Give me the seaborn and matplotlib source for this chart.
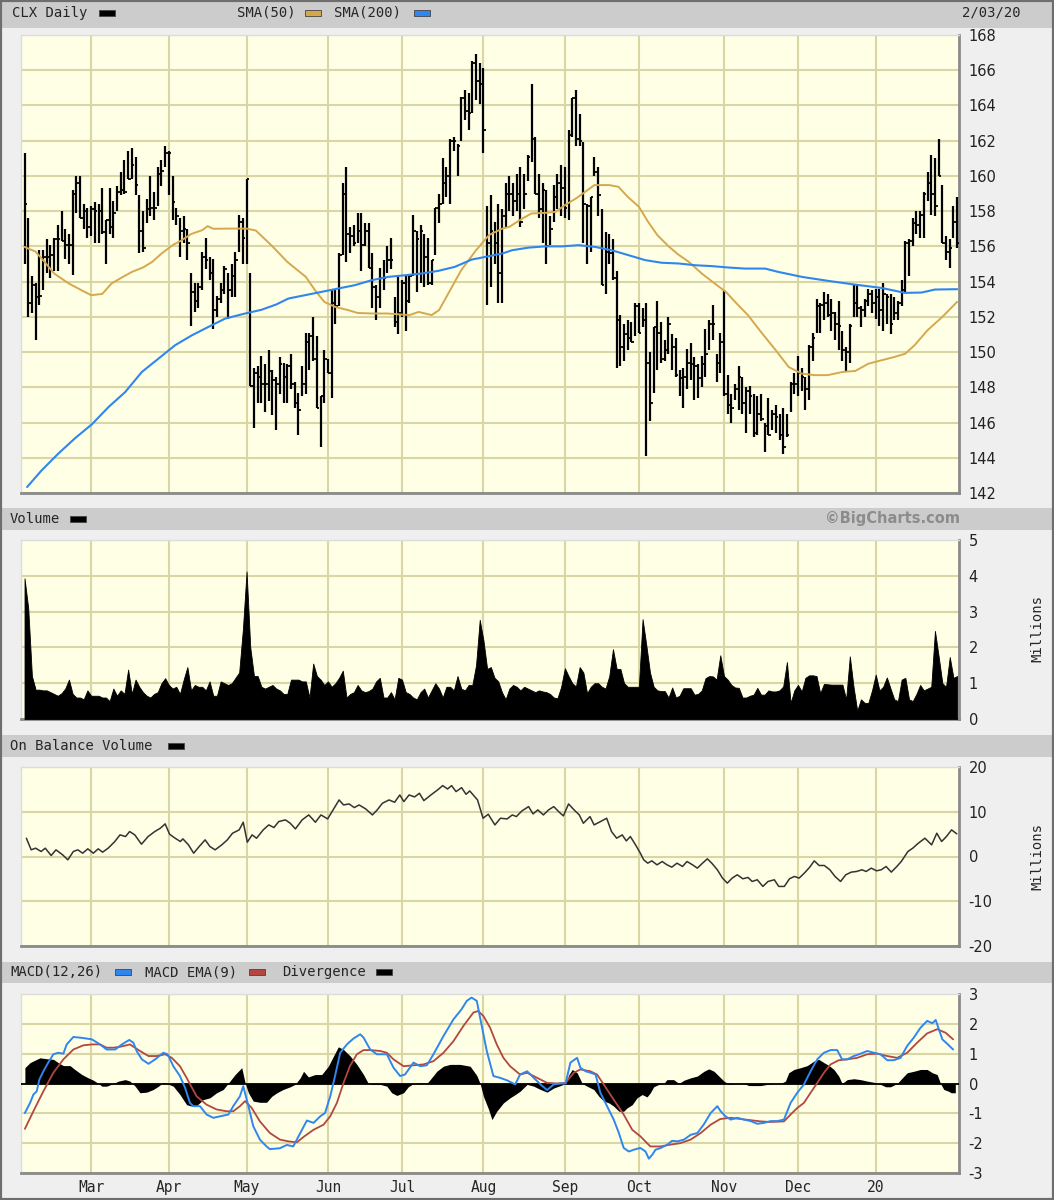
import numpy as np
import seaborn as sns
import matplotlib.pyplot as plt
from matplotlib.patches import Rectangle

# ---- price bars (daily high / low / close), Feb 2019 - Feb 3 2020 ----
highs = [161.3, 157.6, 154.3, 153.9, 155.8, 155.8, 156.4, 156.1, 156.5, 157.2,
         158.0, 157.0, 156.7, 159.2, 160.0, 160.0, 158.4, 158.2, 158.3, 158.5,
         158.4, 159.3, 157.5, 159.3, 158.6, 159.4, 160.2, 160.9, 161.4, 161.6,
         161.1, 158.9, 158.0, 158.7, 160.0, 159.1, 160.5, 160.9, 161.7, 161.4,
         160.0, 158.2, 157.6, 157.7, 157.0, 154.5, 153.9, 153.9, 155.7, 156.5,
         155.4, 155.3, 153.2, 153.9, 154.9, 154.5, 155.0, 155.7, 157.8, 157.6,
         159.8, 154.5, 149.1, 149.2, 149.8, 149.3, 150.1, 149.0, 148.6, 149.7,
         149.4, 149.3, 149.9, 148.3, 147.7, 149.2, 151.1, 151.1, 152.0, 150.9,
         147.5, 150.1, 149.6, 153.6, 153.5, 155.6, 159.6, 160.5, 157.1, 157.2,
         157.9, 157.9, 157.3, 157.3, 155.6, 153.8, 154.8, 155.2, 156.0, 156.5,
         153.1, 154.4, 154.1, 154.4, 154.3, 157.8, 156.9, 157.2, 156.7, 156.5,
         155.2, 158.2, 159.0, 161.0, 160.5, 162.1, 162.2, 161.8, 164.5, 164.9,
         164.7, 166.5, 166.9, 166.4, 166.1, 158.3, 158.9, 157.4, 158.4, 158.1,
         159.6, 160.0, 159.6, 160.1, 160.5, 160.1, 161.2, 165.2, 162.2, 160.1,
         159.6, 159.2, 157.7, 159.5, 160.1, 160.6, 160.5, 162.6, 164.4, 164.9,
         163.5, 161.9, 158.4, 158.8, 161.1, 160.5, 158.1, 156.8, 156.7, 156.4,
         154.6, 152.1, 151.6, 151.8, 151.7, 152.8, 152.8, 152.5, 152.8, 150.0,
         151.4, 152.9, 151.7, 150.7, 152.0, 151.0, 150.8, 149.0, 149.1, 150.2,
         150.5, 149.7, 149.3, 149.8, 151.3, 151.8, 152.7, 149.9, 151.1, 153.5,
         148.7, 147.6, 148.2, 149.2, 148.6, 148.0, 148.1, 147.6, 147.5, 147.6,
         146.0, 147.4, 146.7, 147.0, 146.5, 146.8, 146.5, 148.3, 148.8, 149.8,
         149.1, 148.6, 150.4, 151.1, 153.0, 152.8, 153.4, 153.3, 153.0, 152.3,
         152.9, 151.2, 150.3, 151.6, 153.8, 153.8, 152.6, 153.0, 153.6, 153.5,
         153.6, 153.6, 153.9, 153.3, 153.3, 153.1, 152.9, 154.1, 156.3, 156.4,
         157.6, 158.0, 158.0, 159.1, 160.2, 161.2, 161.0, 162.1, 159.5, 156.6,
         156.4, 158.3, 158.8]
lows = [155.0, 152.0, 152.2, 150.7, 152.7, 153.5, 154.5, 154.2, 154.6, 154.6,
        156.3, 155.3, 155.0, 154.4, 157.9, 157.6, 157.0, 156.5, 156.6, 156.2,
        156.2, 156.7, 155.0, 156.7, 156.5, 158.0, 158.9, 159.0, 159.8, 159.8,
        158.9, 155.6, 155.7, 157.3, 157.7, 157.5, 158.3, 159.4, 160.5, 158.9,
        157.5, 157.2, 155.4, 156.2, 155.2, 151.5, 152.3, 152.5, 153.5, 154.7,
        154.1, 151.3, 152.0, 152.8, 153.3, 151.9, 153.1, 153.1, 155.7, 155.0,
        155.0, 148.1, 145.7, 147.1, 147.1, 146.6, 147.2, 146.4, 145.6, 147.6,
        147.1, 147.1, 147.9, 146.8, 145.3, 147.5, 147.6, 149.0, 149.5, 146.8,
        144.6, 147.1, 148.8, 147.4, 151.6, 152.6, 155.5, 155.1, 155.6, 156.0,
        156.2, 154.6, 156.0, 154.8, 152.5, 151.8, 152.5, 153.5, 154.5, 154.7,
        151.4, 151.0, 152.0, 151.2, 152.8, 154.3, 153.4, 153.9, 153.7, 153.8,
        153.8, 155.5, 157.3, 158.4, 158.8, 158.4, 161.4, 160.0, 162.0, 163.2,
        162.6, 163.6, 164.3, 164.1, 161.3, 152.7, 153.7, 155.0, 152.8, 152.8,
        157.1, 158.0, 157.7, 158.0, 157.1, 158.1, 159.7, 160.8, 159.0, 157.6,
        156.2, 155.0, 156.1, 157.4, 158.1, 157.7, 157.6, 157.5, 162.2, 161.7,
        161.7, 156.2, 155.0, 155.7, 160.0, 157.7, 153.8, 153.3, 155.0, 154.1,
        149.1, 149.2, 149.5, 150.1, 150.6, 150.9, 151.1, 151.4, 144.1, 146.1,
        147.7, 149.0, 149.4, 149.5, 149.9, 149.0, 148.6, 147.5, 146.8, 147.9,
        148.4, 147.3, 147.4, 148.0, 148.6, 150.1, 150.7, 148.3, 148.8, 147.5,
        146.5, 146.0, 147.3, 146.7, 146.5, 145.4, 146.5, 145.2, 145.3, 146.1,
        144.3, 145.3, 145.6, 145.4, 145.0, 144.2, 145.2, 146.6, 147.6, 147.5,
        147.8, 146.7, 147.3, 149.5, 151.1, 151.1, 151.8, 152.0, 151.2, 150.7,
        150.1, 149.5, 148.9, 149.4, 152.0, 152.0, 151.4, 152.0, 152.6, 152.2,
        151.9, 151.5, 151.2, 151.6, 151.0, 151.8, 151.8, 152.6, 153.4, 154.3,
        156.0, 156.7, 156.5, 156.5, 158.6, 157.8, 157.7, 160.0, 156.2, 155.2,
        154.8, 156.5, 155.9]
closes = [158.4, 152.8, 153.8, 153.1, 153.2, 155.4, 155.4, 155.5, 156.4, 156.4,
          156.3, 156.1, 156.1, 159.0, 159.6, 157.6, 158.0, 157.1, 158.1, 158.0,
          158.0, 156.8, 157.5, 157.1, 157.9, 159.1, 159.2, 159.1, 159.8, 160.6,
          159.5, 156.9, 155.9, 158.1, 158.2, 158.2, 160.1, 160.3, 161.3, 161.3,
          158.5, 157.7, 156.9, 157.0, 156.2, 153.4, 152.9, 153.7, 155.4, 155.2,
          154.5, 152.4, 153.0, 153.5, 154.7, 153.5, 154.3, 155.2, 157.4, 156.5,
          159.8, 148.1, 148.8, 148.6, 148.2, 148.2, 148.9, 148.4, 148.2, 149.3,
          148.6, 149.2, 148.2, 147.1, 146.7, 148.2, 150.6, 150.9, 149.6, 146.8,
          147.5, 149.6, 148.8, 152.8, 152.6, 155.5, 159.0, 156.7, 156.6, 156.2,
          156.9, 156.1, 156.9, 154.8, 153.7, 153.1, 154.2, 154.2, 155.2, 155.2,
          151.7, 152.2, 153.9, 152.9, 154.3, 156.9, 156.4, 156.9, 155.4, 153.9,
          155.2, 158.2, 158.4, 159.6, 160.0, 162.0, 162.0, 161.7, 164.4, 163.7,
          163.6, 166.4, 165.4, 165.2, 162.6, 156.2, 156.9, 156.2, 154.5, 157.7,
          159.0, 159.0, 158.6, 159.0, 157.4, 159.0, 161.1, 162.1, 159.0, 158.1,
          159.2, 156.0, 157.0, 158.8, 159.6, 159.3, 158.2, 162.3, 164.4, 162.1,
          162.0, 158.4, 158.3, 158.8, 160.2, 158.9, 153.8, 155.7, 155.6, 154.2,
          151.8, 150.3, 151.0, 150.8, 150.6, 152.6, 151.1, 151.8, 149.4, 147.1,
          151.4, 151.1, 149.6, 150.1, 151.6, 150.3, 148.7, 148.5, 148.6, 149.4,
          149.3, 149.2, 148.5, 149.3, 149.9, 151.6, 151.6, 149.4, 150.6, 147.6,
          147.0, 146.8, 147.9, 148.6, 147.1, 147.8, 147.5, 145.4, 146.5, 146.2,
          145.8, 145.3, 146.5, 146.3, 145.3, 144.6, 145.3, 148.2, 148.2, 148.8,
          148.6, 147.9, 150.3, 150.8, 152.6, 152.7, 152.8, 152.1, 152.2, 151.6,
          151.5, 150.1, 150.0, 151.5, 152.8, 152.5, 152.4, 152.9, 153.3, 152.8,
          153.1, 152.4, 153.3, 153.1, 151.6, 152.2, 152.8, 153.5, 156.2, 156.3,
          157.3, 157.2, 157.8, 159.0, 159.6, 159.0, 158.3, 160.0, 156.2, 155.7,
          155.9, 157.4, 156.2]

# ---- moving averages (read at sample days) ----
sma50_x = [0, 3, 5.5, 8, 12, 15.5, 18, 21, 23.5, 26, 29, 32, 34.5, 37, 40, 42.5, 45, 48, 49.5, 51,
           55, 60, 62.5, 65, 67, 71, 76, 78.5, 81, 84, 87.5, 90, 94, 98, 102, 104, 106.5, 110, 112, 114.5,
           118, 122, 125.5, 129, 131, 134.5, 137, 140.5, 143.5, 146, 149, 151.5, 154, 158, 160.5, 163, 166,
           168.5, 171, 174, 176.5, 179.5, 183, 186.5, 189.5, 192, 195.5, 199, 203, 206.5, 210, 213.5, 217,
           221, 224.5, 228, 231.5, 235, 238, 240.5, 244, 248, 252]
sma50 = [155.97, 155.7, 155.1, 154.46, 153.89, 153.5, 153.23, 153.3, 153.89, 154.2, 154.55, 154.8, 155.12,
         155.59, 156.07, 156.35, 156.7, 156.92, 157.15, 157.0, 157.01, 157.01, 156.9, 156.4, 156.0, 155.12,
         154.27, 153.51, 152.85, 152.56, 152.38, 152.22, 152.19, 152.19, 152.13, 152.1, 152.28, 152.1,
         152.38, 153.32, 154.65, 155.78, 156.64, 157.0, 157.11, 157.58, 157.87, 157.9, 157.96, 158.34,
         158.72, 159.1, 159.48, 159.48, 159.38, 158.81, 158.25, 157.39, 156.64, 156.01, 155.56, 155.12,
         154.46, 153.89, 153.42, 152.85, 152.09, 151.14, 150.1, 149.15, 148.78, 148.69, 148.69, 148.87,
         148.93, 149.34, 149.53, 149.72, 149.91, 150.39, 151.24, 152.0, 152.85]
sma200_x = [0.7, 4.6, 9.1, 13.6, 18.2, 22.7, 27.2, 31.7, 36.2, 40.7, 45.2, 49.7, 54.2, 59.6, 64, 68,
            71.3, 75.8, 80.3, 84.8, 89.3, 93.8, 98.3, 102.8, 107.3, 111.8, 116.3, 120.8, 125.4, 129.5,
            131.7, 136.2, 140.7, 145.2, 149.7, 154.2, 158.7, 163.2, 167.7, 172.2, 176.7, 181.2, 185.7,
            190.2, 194.7, 200.1, 203.7, 210, 217.2, 224.4, 231.6, 237.9, 242.4, 246, 252]
sma200 = [142.34, 143.28, 144.23, 145.1, 145.9, 146.88, 147.73, 148.87, 149.63, 150.39, 150.95, 151.43,
          151.9, 152.19, 152.4, 152.7, 153.04, 153.23, 153.42, 153.61, 153.8, 154.08, 154.27, 154.36,
          154.46, 154.61, 154.84, 155.25, 155.44, 155.62, 155.78, 155.93, 156.0, 156.0, 156.07, 155.97,
          155.78, 155.5, 155.22, 155.07, 155.03, 154.93, 154.88, 154.8, 154.74, 154.74, 154.55, 154.27,
          154.04, 153.83, 153.64, 153.36, 153.38, 153.55, 153.57]

# ---- volume (millions) ----
volume = [3.93, 3.1, 1.2, 0.82, 0.82, 0.8, 0.8, 0.75, 0.7, 0.65,
          0.72, 0.85, 1.1, 0.7, 0.6, 0.6, 0.55, 0.8, 0.65, 0.65,
          0.65, 0.6, 0.6, 0.5, 0.85, 0.65, 0.8, 0.7, 1.38, 0.7,
          1.1, 0.9, 0.75, 0.65, 0.6, 0.7, 0.75, 1.0, 1.14, 0.95,
          0.85, 0.9, 0.7, 1.1, 1.45, 0.8, 0.95, 0.9, 0.9, 0.8,
          1.05, 0.65, 0.65, 1.05, 1.0, 0.95, 1.0, 1.15, 1.3, 2.5,
          4.12, 2.0, 1.2, 1.2, 0.9, 0.85, 0.9, 0.95, 0.85, 0.8,
          0.7, 0.7, 1.1, 1.1, 1.1, 1.05, 1.05, 0.6, 1.55, 1.2,
          1.1, 0.95, 1.05, 0.9, 1.0, 1.15, 1.35, 0.6, 0.7, 0.75,
          0.95, 0.8, 0.75, 0.78, 0.85, 1.05, 1.15, 0.6, 0.6, 0.75,
          0.55, 1.15, 1.1, 0.75, 0.7, 0.6, 0.55, 0.75, 0.85, 0.6,
          0.8, 1.0, 0.85, 0.6, 0.9, 0.9, 0.8, 1.2, 0.85, 0.8,
          0.95, 0.95, 1.5, 2.77, 2.2, 1.4, 1.45, 1.15, 1.05, 0.75,
          0.55, 0.85, 0.95, 0.9, 0.8, 0.9, 0.85, 0.8, 0.75, 0.8,
          0.77, 0.75, 0.7, 0.6, 0.58, 0.9, 1.42, 1.2, 1.0, 0.91,
          1.45, 1.3, 0.72, 0.9, 1.0, 1.0, 0.9, 0.85, 1.2, 1.95,
          1.4, 1.4, 1.0, 0.9, 0.9, 0.9, 0.9, 2.79, 2.07, 1.3,
          0.9, 0.8, 0.78, 0.78, 0.6, 0.88, 0.6, 0.65, 0.86, 0.86,
          0.86, 0.68, 0.7, 0.8, 1.14, 1.2, 1.19, 1.1, 1.78, 1.2,
          1.1, 0.95, 0.88, 0.87, 0.6, 0.6, 0.65, 0.68, 0.87, 0.68,
          0.68, 0.8, 0.77, 0.77, 0.8, 0.91, 1.59, 0.45, 0.8, 0.95,
          0.77, 1.15, 1.22, 1.22, 1.2, 0.72, 0.98, 0.97, 0.96, 0.96,
          0.96, 0.96, 0.55, 1.75, 0.9, 0.23, 0.55, 0.45, 0.45, 0.8,
          1.24, 0.8, 0.9, 1.16, 0.85, 0.55, 0.5, 1.1, 1.15, 0.55,
          0.5, 0.7, 0.95, 0.8, 0.85, 0.9, 2.46, 1.75, 1.0, 0.9,
          1.73, 1.15, 1.2]

# ---- on balance volume (millions, sampled) ----
obv_x = [0.5, 1.8, 3.0, 4.5, 5.6, 7.2, 8.5, 10.3, 11.7, 13.2, 14.4, 15.7, 17.1, 18.6, 19.9, 21.1, 22.6,
         24.4, 25.8, 27.3, 28.4, 29.8, 31.6, 33.4, 35.2, 36.7, 38.0, 39.2, 40.7, 42.1, 42.8, 44.3, 45.7,
         47.2, 48.8, 50.1, 51.5, 53.3, 54.8, 56.2, 58.0, 59.1, 60.2, 61.5, 62.7, 64.5, 66.0, 67.4, 68.7,
         70.5, 71.8, 73.2, 75.0, 76.8, 78.6, 80.1, 81.9, 83.2, 85.0, 86.2, 87.7, 89.1, 90.4, 92.2, 94.0,
         95.3, 96.7, 98.5, 100.0, 101.4, 102.5, 103.9, 105.4, 106.7, 107.9, 109.8, 111.6, 113.0, 114.3,
         115.4, 116.6, 118.1, 119.3, 120.3, 122.4, 123.9, 125.3, 127.1, 128.6, 130.4, 131.8, 132.9, 134.4,
         136.2, 137.4, 138.7, 140.2, 141.6, 143.0, 144.5, 145.6, 147.0, 148.5, 149.9, 151.0, 152.8, 153.9,
         155.3, 157.3, 158.6, 160.0, 161.5, 162.6, 163.7, 165.1, 166.4, 167.3, 168.4, 169.5, 170.9, 172.3,
         173.6, 174.9, 176.3, 177.8, 179.0, 180.5, 181.8, 183.2, 184.5, 185.7, 187.2, 188.6, 189.9, 191.2,
         192.6, 194.1, 195.5, 196.6, 198.0, 199.5, 200.9, 202.6, 203.8, 205.3, 206.7, 208.0, 209.3, 210.7,
         212.1, 213.4, 214.7, 216.1, 217.6, 219.0, 220.5, 221.9, 223.4, 224.8, 226.3, 227.4, 228.8, 230.2,
         231.5, 232.8, 234.2, 235.7, 236.9, 238.7, 240.0, 241.5, 243.3, 245.1, 246.5, 247.8, 249.1, 250.5,
         251.9]
obv = [4.09, 1.49, 1.86, 1.12, 1.86, 0.22, 1.49, 0.37, -0.74, 1.12, 1.49, 0.74, 1.71, 0.74, 1.71, 0.97,
       1.86, 3.35, 4.83, 4.46, 5.58, 4.83, 2.75, 4.46, 5.58, 6.32, 7.29, 4.98, 4.09, 3.35, 3.94, 2.6, 0.74,
       2.23, 3.72, 2.23, 1.49, 2.6, 3.72, 5.2, 5.95, 7.66, 3.2, 4.83, 4.09, 5.95, 7.06, 6.47, 7.81, 8.18,
       7.43, 6.17, 8.18, 9.29, 7.66, 9.29, 8.4, 10.19, 12.64, 11.52, 11.75, 10.93, 11.52, 10.63, 9.29,
       10.41, 11.9, 12.64, 12.12, 13.75, 12.27, 13.75, 13.31, 14.13, 12.49, 13.75, 14.87, 15.84, 15.09,
       15.84, 14.5, 15.39, 13.9, 14.65, 12.64, 8.55, 9.44, 7.06, 8.55, 8.4, 9.29, 8.92, 10.19, 11.15, 9.52,
       10.41, 9.29, 10.41, 11.15, 9.89, 9.07, 11.75, 10.41, 9.29, 7.43, 8.92, 7.06, 7.66, 8.55, 5.58, 4.09,
       4.83, 3.49, 4.46, 2.6, 0.74, -0.74, -1.49, -0.97, -1.86, -1.12, -1.86, -2.38, -1.49, -2.23, -1.12,
       -1.86, -2.6, -1.49, -0.52, -1.49, -2.97, -4.83, -5.95, -4.83, -4.09, -4.98, -4.68, -5.58, -5.2,
       -6.69, -5.58, -5.2, -6.69, -6.69, -4.98, -4.46, -4.83, -3.72, -2.45, -0.97, -2.01, -2.01, -2.97,
       -4.46, -5.58, -4.09, -3.49, -3.35, -2.97, -3.35, -2.6, -3.2, -2.97, -2.23, -3.49, -2.23, -1.12,
       1.12, 1.86, 2.97, 4.09, 2.6, 5.2, 3.35, 4.46, 5.95, 5.06]

# ---- MACD(12,26), signal EMA(9), divergence (sampled) ----
macd_x = [0.1, 1.5, 2.4, 3.3, 4.0, 5.1, 6.4, 7.8, 9.1, 10.5, 11.4, 13.2, 15.5, 18.2, 20.4, 22.2, 24.5,
          26.3, 28.3, 29.4, 30.3, 31.7, 33.5, 35.3, 37.5, 38.7, 40.2, 42.0, 43.4, 44.7, 45.6, 47.4, 49.2,
          51.0, 53.3, 55.1, 56.4, 58.2, 59.1, 60.5, 61.8, 63.6, 65.4, 66.3, 69.0, 70.9, 72.6, 74.5, 76.3,
          78.1, 79.9, 81.2, 82.6, 83.9, 85.3, 87.1, 88.9, 90.7, 91.6, 93.4, 95.2, 97.9, 99.7, 101.5, 102.8,
          105.1, 106.9, 108.7, 110.5, 113.2, 115.9, 118.1, 119.5, 120.8, 122.2, 123.1, 124.9, 126.7, 128.5,
          130.3, 132.6, 133.9, 135.8, 137.6, 139.4, 141.2, 143.0, 144.8, 146.2, 147.5, 149.3, 150.2, 151.6,
          153.0, 154.3, 155.6, 157.4, 159.2, 160.6, 161.9, 163.3, 164.6, 166.4, 167.8, 168.7, 169.6, 170.5,
          171.9, 173.7, 175.0, 176.4, 178.2, 180.0, 181.8, 183.5, 185.4, 187.2, 188.1, 189.4, 190.8, 192.6,
          194.4, 196.2, 198.0, 199.8, 201.6, 203.4, 205.2, 207.0, 208.8, 210.6, 212.4, 214.2, 216.0, 217.8,
          219.6, 220.9, 222.3, 224.1, 225.9, 227.7, 229.5, 231.3, 233.1, 234.9, 236.7, 238.5, 240.3, 242.1,
          243.9, 245.3, 246.2, 248.0, 249.5, 250.9]
macd = [-0.99, -0.65, -0.37, -0.26, 0.13, 0.41, 0.7, 0.98, 1.03, 1.0, 1.31, 1.56, 1.53, 1.48, 1.31, 1.14,
        1.14, 1.31, 1.46, 1.37, 1.09, 0.81, 0.66, 0.81, 1.03, 0.98, 0.58, 0.25, -0.15, -0.65, -0.76, -0.76,
        -1.04, -1.15, -1.09, -1.04, -0.76, -0.43, -0.09, -0.76, -1.43, -1.88, -2.11, -2.2, -2.17, -2.06,
        -2.11, -1.66, -1.24, -1.32, -1.1, -0.99, -0.43, 0.25, 1.03, 1.31, 1.51, 1.65, 1.54, 1.14, 0.98,
        0.98, 0.53, 0.25, 0.3, 0.7, 0.58, 0.61, 0.98, 1.59, 2.15, 2.49, 2.77, 2.88, 2.77, 2.21, 1.09, 0.25,
        0.19, 0.11, -0.03, 0.3, 0.41, 0.19, -0.03, -0.22, -0.03, 0.0, 0.0, 0.7, 0.86, 0.53, 0.41, 0.36,
        0.3, -0.31, -0.76, -1.21, -1.66, -2.16, -2.28, -2.22, -2.16, -2.28, -2.52, -2.39, -2.22, -2.16,
        -2.05, -1.92, -1.94, -1.88, -1.72, -1.66, -1.38, -0.99, -0.76, -0.93, -1.1, -1.21, -1.15, -1.21,
        -1.26, -1.35, -1.32, -1.26, -1.26, -1.21, -0.65, -0.31, -0.03, 0.41, 0.81, 1.03, 1.12, 1.12, 0.81,
        0.81, 0.92, 1.0, 1.09, 1.03, 0.98, 0.78, 0.78, 0.86, 1.26, 1.54, 1.87, 2.1, 2.02, 2.13, 1.48, 1.31,
        1.14]
ema_x = [0.1, 2.4, 5.1, 7.8, 10.5, 13.2, 15.9, 18.2, 20.4, 22.2, 24.0, 25.8, 28.5, 31.2, 33.5, 35.7, 38.0,
         39.8, 42.0, 43.8, 46.5, 49.2, 51.9, 54.6, 56.4, 58.2, 59.6, 61.4, 63.6, 66.3, 69.0, 71.3, 73.6, 75.4,
         78.1, 80.8, 82.6, 84.4, 86.2, 87.9, 89.8, 91.6, 93.4, 96.1, 97.9, 99.7, 102.4, 105.1, 107.8, 110.5,
         113.2, 115.9, 118.6, 121.3, 122.6, 124.0, 125.8, 127.6, 129.4, 131.2, 133.9, 135.8, 138.5, 141.2,
         143.9, 146.2, 148.4, 150.2, 152.9, 154.7, 156.5, 159.2, 161.9, 164.2, 166.4, 169.1, 171.8, 174.5,
         177.2, 180.0, 182.7, 185.4, 188.0, 190.8, 193.5, 196.2, 198.9, 201.5, 205.2, 207.0, 208.8, 210.6,
         212.4, 214.2, 216.0, 217.8, 220.0, 222.3, 225.0, 227.7, 230.4, 233.1, 235.8, 238.5, 241.2, 243.9,
         246.6, 248.9, 250.9]
ema = [-1.52, -0.93, -0.26, 0.36, 0.81, 1.14, 1.28, 1.31, 1.31, 1.2, 1.2, 1.23, 1.31, 1.09, 0.92, 0.92,
       0.98, 0.86, 0.58, 0.19, -0.43, -0.71, -0.87, -0.93, -0.93, -0.76, -0.59, -0.82, -1.27, -1.66, -1.88,
       -1.94, -1.97, -1.79, -1.55, -1.38, -1.1, -0.65, 0.02, 0.58, 0.98, 1.12, 1.12, 1.09, 1.03, 0.81, 0.58,
       0.61, 0.64, 0.75, 1.03, 1.42, 1.93, 2.38, 2.43, 2.26, 1.87, 1.31, 0.86, 0.58, 0.3, 0.36, 0.19, 0.02,
       0.0, 0.02, 0.36, 0.47, 0.41, 0.3, -0.03, -0.54, -1.04, -1.55, -1.77, -2.11, -2.11, -2.05, -2.0,
       -1.88, -1.66, -1.38, -1.19, -1.15, -1.19, -1.23, -1.27, -1.29, -1.27, -1.04, -0.82, -0.65, -0.31,
       0.02, 0.36, 0.64, 0.78, 0.81, 0.86, 0.98, 1.0, 0.92, 0.86, 1.03, 1.37, 1.68, 1.82, 1.7, 1.48]
div_x = [0.1, 1.5, 3.3, 4.2, 6.0, 7.8, 9.1, 10.5, 12.3, 13.6, 15.5, 17.2, 18.6, 20.0, 20.9, 22.2, 24.0,
         25.4, 27.2, 28.5, 29.9, 31.2, 33.0, 34.8, 36.2, 37.5, 38.4, 40.2, 42.0, 43.8, 45.2, 46.5, 48.3,
         50.1, 51.9, 53.7, 55.5, 56.9, 58.7, 59.6, 60.5, 61.8, 63.6, 65.4, 66.8, 68.2, 69.9, 71.8, 73.1,
         74.5, 75.4, 76.7, 78.5, 80.3, 82.1, 83.5, 84.8, 86.2, 88.0, 89.8, 91.6, 92.9, 94.3, 96.1, 97.9,
         99.2, 100.6, 102.4, 103.7, 105.1, 106.9, 108.7, 109.6, 111.4, 113.2, 115.0, 117.7, 120.4, 122.2,
         123.1, 124.0, 125.4, 126.3, 127.6, 129.4, 131.2, 132.6, 133.9, 135.8, 137.6, 139.4, 141.2, 143.0,
         144.8, 146.2, 147.1, 148.0, 149.3, 150.7, 152.0, 153.8, 155.2, 156.5, 157.9, 159.2, 160.6, 161.9,
         162.8, 164.2, 165.5, 166.9, 168.2, 169.1, 170.0, 171.4, 172.7, 173.6, 175.4, 176.8, 178.2, 180.0,
         181.8, 183.6, 184.9, 186.3, 187.6, 189.0, 190.3, 192.1, 194.4, 195.7, 198.9, 200.7, 202.5, 204.3,
         205.6, 206.5, 207.9, 209.7, 211.5, 213.3, 214.6, 216.0, 217.4, 218.7, 220.0, 220.9, 222.3, 224.1,
         225.9, 227.7, 229.5, 231.3, 232.7, 234.0, 235.8, 237.2, 238.5, 240.3, 242.1, 243.9, 245.3, 246.6,
         247.5, 248.4, 249.7, 250.4, 251.5]
divergence = [0.53, 0.7, 0.81, 0.86, 0.83, 0.81, 0.7, 0.6, 0.6, 0.47, 0.3, 0.19, 0.11, 0.0, -0.09, -0.09,
              0.0, 0.08, 0.13, 0.08, -0.09, -0.31, -0.29, -0.2, -0.09, 0.04, 0.0, -0.09, -0.37, -0.71, -0.76,
              -0.74, -0.54, -0.48, -0.31, -0.2, 0.08, 0.3, 0.53, 0.02, -0.31, -0.59, -0.63, -0.63, -0.43,
              -0.31, -0.2, -0.11, -0.03, 0.19, 0.41, 0.22, 0.3, 0.3, 0.58, 0.92, 1.23, 1.14, 0.92, 0.64, 0.3,
              0.0, -0.03, -0.03, -0.09, -0.31, -0.4, -0.31, -0.11, 0.0, 0.02, 0.0, 0.13, 0.41, 0.58, 0.64,
              0.64, 0.58, 0.27, 0.0, -0.43, -0.87, -1.21, -0.93, -0.65, -0.48, -0.37, -0.26, -0.03, -0.09,
              -0.2, -0.29, -0.15, -0.07, 0.0, 0.3, 0.47, 0.36, 0.0, -0.09, -0.2, -0.43, -0.59, -0.65, -0.76,
              -0.93, -0.93, -0.82, -0.71, -0.48, -0.37, -0.45, -0.31, -0.11, -0.03, 0.0, 0.13, 0.13, 0.0,
              0.11, 0.19, 0.25, 0.41, 0.49, 0.41, 0.25, 0.08, -0.03, 0.0, 0.0, -0.07, -0.07, -0.03, 0.0, 0.0,
              0.08, 0.36, 0.47, 0.53, 0.6, 0.75, 0.81, 0.7, 0.6, 0.47, 0.25, 0.0, 0.13, 0.16, 0.13, 0.08,
              0.04, -0.03, -0.11, -0.11, 0.0, 0.19, 0.36, 0.41, 0.47, 0.47, 0.36, 0.3, 0.0, -0.2, -0.26,
              -0.31, -0.31]

month_pos = [18, 39, 60, 82, 102, 124, 146, 166, 189, 209, 230]
month_labels = ["Mar", "Apr", "May", "Jun", "Jul", "Aug", "Sep", "Oct", "Nov", "Dec", "20"]

sns.set_theme(style="white")
plt.rcParams['font.family'] = ['DejaVu Sans']
plt.rcParams['axes.unicode_minus'] = False

W, H = 1054, 1200
fig = plt.figure(figsize=(W / 100, H / 100), dpi=100)
fig.patch.set_facecolor('#efefef')
MONO = 'DejaVu Sans Mono'


def px_axes(x0, y0, x1, y1):
    return fig.add_axes([x0 / W, 1 - y1 / H, (x1 - x0) / W, (y1 - y0) / H])


def band(y0, y1):
    fig.add_artist(Rectangle((0, 1 - y1 / H), 1, (y1 - y0) / H, transform=fig.transFigure,
                             facecolor='#cccccc', edgecolor='none', zorder=0))


def swatch(x, y, color):
    fig.add_artist(Rectangle((x / W, 1 - (y + 3) / H), 16 / W, 6 / H, transform=fig.transFigure,
                             facecolor=color, edgecolor='#444444', lw=0.6))


def label(x, y, s, **kw):
    fig.text(x / W, 1 - y / H, s, va='center', ha='left', family=MONO, fontsize=10, **kw)


def style(ax, lo, hi, ticks):
    ax.set_facecolor('#ffffe6')
    ax.set_xlim(-0.95, 252.5)
    ax.set_ylim(lo, hi)
    ax.set_yticks(ticks)
    ax.set_xticks(month_pos)
    ax.grid(True, color='#d9d6a4', lw=1.5)
    ax.set_axisbelow(True)
    ax.yaxis.tick_right()
    ax.tick_params(axis='y', length=0, pad=7, labelsize=10.5, colors='#222222')
    ax.tick_params(axis='x', length=0, labelbottom=False)
    ax.set_xlabel('')
    ax.set_ylabel('')
    for s in ['top', 'left']:
        ax.spines[s].set_color('#dcdcdc')
        ax.spines[s].set_linewidth(1)
    for s in ['bottom', 'right']:
        ax.spines[s].set_color('#8a8a8a')
        ax.spines[s].set_linewidth(2)


# header bands
band(0, 28)
band(508, 530)
band(735, 757)
band(962, 983)

label(12, 13, "CLX Daily")
swatch(99, 13, 'black')
label(237, 13, "SMA(50)")
swatch(305, 13, '#d6a84e')
label(334, 13, "SMA(200)")
swatch(414, 13, '#2f86ee')
label(962, 13, "2/03/20")

label(10, 519, "Volume")
swatch(70, 519, 'black')
fig.text(960 / W, 1 - 519 / H, "©BigCharts.com", ha='right', va='center', fontsize=10.5,
         fontweight='bold', color='#8c8c8c')
label(10, 746, "On Balance Volume")
swatch(168, 746, 'black')
label(10, 972, "MACD(12,26)")
swatch(115, 972, '#2f86ee')
label(145, 972, "MACD EMA(9)")
swatch(249, 972, '#b3473f')
label(282, 972, "Divergence")
swatch(376, 972, 'black')

days = np.arange(len(closes))

# price panel
ax1 = px_axes(21, 35, 959, 493)
ax1.vlines(days, lows, highs, color='black', lw=1.6, zorder=3)
ax1.hlines(closes, days, days + 0.7, color='black', lw=1.3, zorder=3)
sns.lineplot(x=sma50_x, y=sma50, ax=ax1, color='#d6a84e', lw=1.4, estimator=None, sort=False, zorder=4)
sns.lineplot(x=sma200_x, y=sma200, ax=ax1, color='#2f86ee', lw=1.5, estimator=None, sort=False, zorder=4)
style(ax1, 142, 168, range(142, 169, 2))

# volume panel
ax2 = px_axes(21, 540, 959, 719)
ax2.fill_between(days, 0, volume, color='black', lw=0.6, zorder=3)
style(ax2, 0, 5, range(0, 6))
fig.text(1037 / W, 1 - 629 / H, "Millions", rotation=90, ha='center', va='center', family=MONO, fontsize=10)

# OBV panel
ax3 = px_axes(21, 767, 959, 946)
sns.lineplot(x=obv_x, y=obv, ax=ax3, color='#333333', lw=1.1, estimator=None, sort=False, zorder=3)
style(ax3, -20, 20, [-20, -10, 0, 10, 20])
fig.text(1037 / W, 1 - 856 / H, "Millions", rotation=90, ha='center', va='center', family=MONO, fontsize=10)

# MACD panel
ax4 = px_axes(21, 994, 959, 1173)
ax4.fill_between(div_x, 0, divergence, color='black', lw=0, zorder=3)
ax4.axhline(0, color='black', lw=1.3, zorder=3)
sns.lineplot(x=ema_x, y=ema, ax=ax4, color='#b3473f', lw=1.3, estimator=None, sort=False, zorder=4)
sns.lineplot(x=macd_x, y=macd, ax=ax4, color='#2f86ee', lw=1.4, estimator=None, sort=False, zorder=5)
style(ax4, -3, 3, range(-3, 4))
ax4.tick_params(axis='x', labelbottom=True, pad=5, labelsize=10.5)
ax4.set_xticklabels(month_labels, family=MONO)

fig.add_artist(Rectangle((0, 0), 1, 1, transform=fig.transFigure, fill=False,
                         edgecolor='#6e6e6e', lw=3))

fig.savefig('out.png', dpi=100)
